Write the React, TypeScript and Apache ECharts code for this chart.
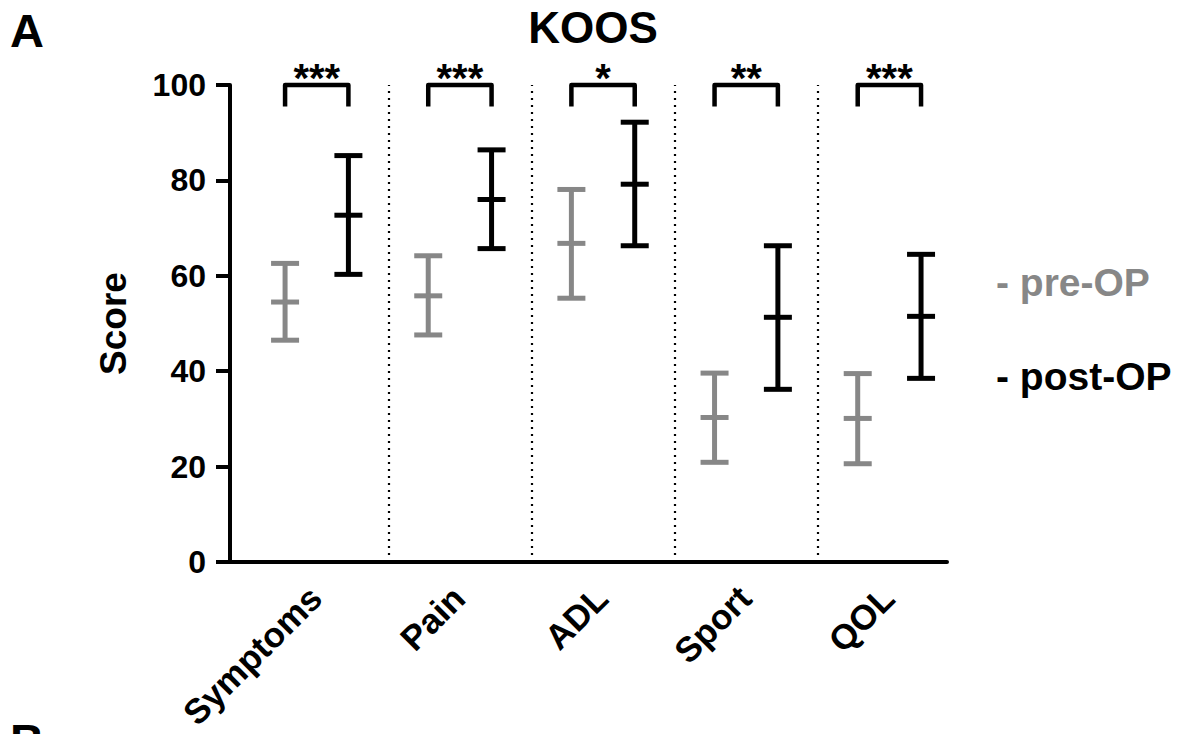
import React, { useEffect, useRef } from 'react';
import * as echarts from 'echarts';

// ---- data ----
const categories = ['Symptoms', 'Pain', 'ADL', 'Sport', 'QOL'];
const preMean = [54.5, 55.8, 66.8, 30.3, 30.1];
const preLow = [46.5, 47.6, 55.3, 20.9, 20.6];
const preHigh = [62.6, 64.2, 78.1, 39.6, 39.5];
const postMean = [72.7, 76.0, 79.2, 51.3, 51.5];
const postLow = [60.3, 65.7, 66.3, 36.2, 38.5];
const postHigh = [85.2, 86.4, 92.2, 66.3, 64.5];
const significance = ['***', '***', '*', '**', '***'];
const yTickStep = 20;
const yMin = 0;
const yMax = 100;

// ---- layout constants ----
const FONT = '"Liberation Sans", Arial, Helvetica, sans-serif';
const GRAY = '#878787';
const HALF = 0.2212; // offset of pre/post marks from group centre (group units)
const LABEL_SHIFT = -0.01;
const BRACKET_Y = 100;

const errorBarRender = (color: string) => (params: any, api: any) => {
  const x = api.value(0);
  const m = api.coord([x, api.value(1)]);
  const lo = api.coord([x, api.value(2)]);
  const hi = api.coord([x, api.value(3)]);
  const hw = 14;
  const style = { stroke: color, lineWidth: 5, fill: null };
  const cap = (p: number[]) => ({
    type: 'line',
    shape: { x1: p[0] - hw, y1: p[1], x2: p[0] + hw, y2: p[1] },
    style,
  });
  return {
    type: 'group',
    children: [
      { type: 'line', shape: { x1: lo[0], y1: lo[1], x2: hi[0], y2: hi[1] }, style },
      cap(hi),
      cap(m),
      cap(lo),
    ],
  };
};

const bracketRender = (params: any, api: any) => {
  const x1 = api.value(0);
  const x2 = api.value(1);
  const yv = api.value(2);
  const label = significance[params.dataIndex];
  const p1 = api.coord([x1, yv]);
  const p2 = api.coord([x2, yv]);
  const leg = 21.5;
  return {
    type: 'group',
    children: [
      {
        type: 'polyline',
        shape: {
          points: [
            [p1[0], p1[1] + leg],
            [p1[0], p1[1]],
            [p2[0], p2[1]],
            [p2[0], p2[1] + leg],
          ],
        },
        style: { stroke: '#000', lineWidth: 4.5, fill: null, lineJoin: 'round' },
      },
      {
        type: 'text',
        x: (p1[0] + p2[0]) / 2,
        y: p1[1] - 7,
        style: {
          text: label,
          fill: '#000',
          font: `bold 40px ${FONT}`,
          align: 'center',
          verticalAlign: 'middle',
        },
      },
    ],
  };
};

export default function App() {
  const ref = useRef<HTMLDivElement>(null);

  useEffect(() => {
    if (!ref.current) return;
    const chart = echarts.init(ref.current, undefined, { renderer: 'svg' });

    const preData = categories.map((_, i) => [i - HALF, preMean[i], preLow[i], preHigh[i]]);
    const postData = categories.map((_, i) => [i + HALF, postMean[i], postLow[i], postHigh[i]]);
    const bracketData = categories.map((_, i) => [i - HALF, i + HALF, BRACKET_Y]);
    const separators = categories.slice(1).map((_, i) => ({ xAxis: i + 0.5 }));

    chart.setOption({
      animation: false,
      backgroundColor: '#fff',
      title: {
        text: 'KOOS',
        left: 588,
        top: 0,
        textAlign: 'center',
        textStyle: { fontSize: 44, fontWeight: 'bold', color: '#000', fontFamily: FONT },
      },
      legend: {
        orient: 'vertical',
        left: 986,
        top: 258,
        icon: 'none',
        itemWidth: 0,
        itemGap: 55,
        selectedMode: false,
        formatter: '- {name}',
        textStyle: { fontSize: 39, fontWeight: 'bold', fontFamily: FONT },
        data: [
          { name: 'pre-OP', textStyle: { color: GRAY } },
          { name: 'post-OP', textStyle: { color: '#000' } },
        ],
      },
      graphic: [
        {
          type: 'text',
          x: 10,
          y: 30,
          style: { text: 'A', font: `bold 47px ${FONT}`, fill: '#000', verticalAlign: 'middle' },
        },
        {
          type: 'text',
          x: 10,
          y: 740,
          style: { text: 'B', font: `bold 47px ${FONT}`, fill: '#000', verticalAlign: 'middle' },
        },
      ],
      grid: {
        left: 230,
        right: 238,
        top: 85,
        bottom: 172,
        containLabel: false,
        outerBoundsMode: 'none',
      },
      xAxis: {
        type: 'value',
        min: -0.6059,
        max: 4.4025,
        splitLine: { show: false },
        axisTick: { show: false },
        axisLine: { show: true, onZero: false, lineStyle: { color: '#000', width: 4 } },
        axisLabel: {
          customValues: categories.map((_, i) => i + LABEL_SHIFT),
          formatter: (v: number) => categories[Math.round(v - LABEL_SHIFT)] ?? '',
          rotate: 45,
          margin: 30,
          interval: 0,
          hideOverlap: false,
          color: '#000',
          fontSize: 35,
          fontWeight: 'bold',
          fontFamily: FONT,
        },
      },
      yAxis: {
        type: 'value',
        min: yMin,
        max: yMax,
        interval: yTickStep,
        name: 'Score',
        nameLocation: 'middle',
        nameRotate: 90,
        nameGap: 98,
        nameTextStyle: { fontSize: 37, fontWeight: 'bold', color: '#000', fontFamily: FONT },
        splitLine: { show: false },
        axisLine: { show: true, onZero: false, lineStyle: { color: '#000', width: 4 } },
        axisTick: { show: true, length: 14, lineStyle: { color: '#000', width: 4 } },
        axisLabel: {
          margin: 24,
          color: '#000',
          fontSize: 32,
          fontWeight: 'bold',
          fontFamily: FONT,
        },
      },
      series: [
        {
          name: 'pre-OP',
          type: 'custom',
          renderItem: errorBarRender(GRAY),
          itemStyle: { color: GRAY },
          encode: { x: 0, y: [1, 2, 3] },
          data: preData,
          markLine: {
            silent: true,
            symbol: ['none', 'none'],
            label: { show: false },
            lineStyle: { color: '#000', type: [2, 5], width: 2.2 },
            data: separators,
          },
        },
        {
          name: 'post-OP',
          type: 'custom',
          renderItem: errorBarRender('#000'),
          itemStyle: { color: '#000' },
          encode: { x: 0, y: [1, 2, 3] },
          data: postData,
        },
        {
          name: 'significance',
          type: 'custom',
          renderItem: bracketRender,
          encode: { x: [0, 1], y: 2 },
          data: bracketData,
        },
      ],
    });

    return () => chart.dispose();
  }, []);

  return (
    <div
      ref={ref}
      style={{ position: 'fixed', left: 0, top: 0, width: 1185, height: 734, background: '#fff' }}
    />
  );
}
